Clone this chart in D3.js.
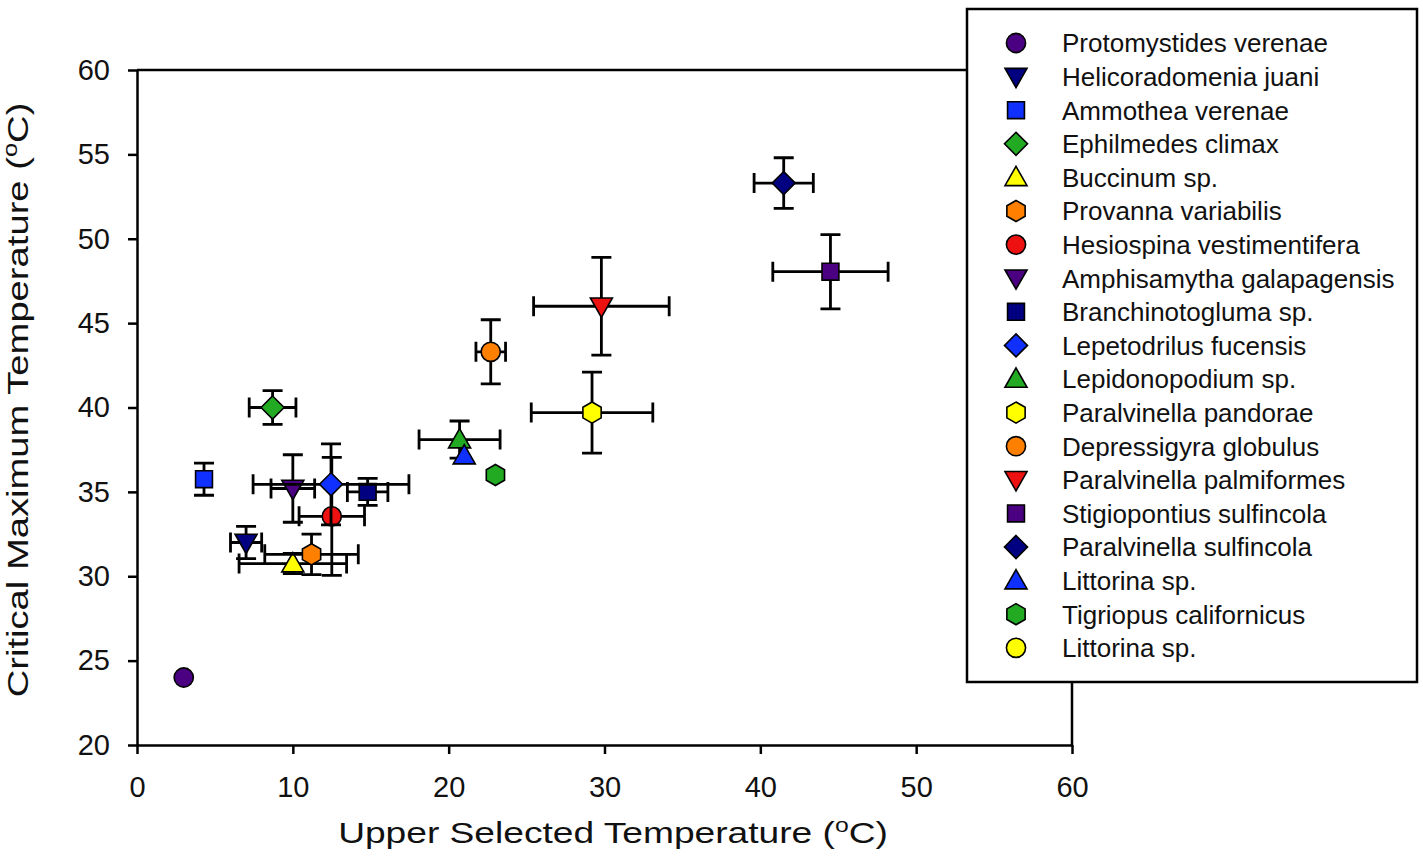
<!DOCTYPE html>
<html lang="en">
<head>
<meta charset="utf-8">
<title>CTmax vs upper selected temperature</title>
<script src="https://d3js.org/d3.v7.min.js"></script>
<style>
body { margin: 0; background: #ffffff; }
text { font-family: "Liberation Sans", Arial, sans-serif; fill: #111; }
.axis path, .axis line { stroke: #000; stroke-width: 2.5; }
.axis text { font-size: 29px; }
</style>
</head>
<body>
<div id="container"></div>
<script>
// data
var species = ["Protomystides verenae", "Helicoradomenia juani", "Ammothea verenae", "Ephilmedes climax",
  "Buccinum sp.", "Provanna variabilis", "Hesiospina vestimentifera", "Amphisamytha galapagensis",
  "Branchinotogluma sp.", "Lepetodrilus fucensis", "Lepidonopodium sp.", "Paralvinella pandorae",
  "Depressigyra globulus", "Paralvinella palmiformes", "Stigiopontius sulfincola", "Paralvinella sulfincola",
  "Littorina sp.", "Tigriopus californicus", "Littorina sp."];
var shapes = ["circle", "triDown", "square", "diamond", "triUp", "hexagon", "circle", "triDown", "square",
  "diamond", "triUp", "hexagon", "circle", "triDown", "square", "diamond", "triUp", "hexagon", "circle"];
var colors = ["#4b0082", "#000080", "#1030ff", "#22aa22", "#ffff00", "#ff8000", "#ee1111", "#4b0082", "#000080",
  "#1030ff", "#22aa22", "#ffff00", "#ff8000", "#ee1111", "#4b0082", "#000080", "#1030ff", "#22aa22", "#ffff00"];
var ustX  = [3.0, 7.0, 4.3, 8.7, 10.0, 11.2, 12.5, 10.0, 14.8, 12.45, 20.7, 29.2, 22.7, 29.8, 44.5, 41.5, 21.0, 23.0, null];
var ctmaxY = [24.0, 32.0, 35.75, 40.0, 30.75, 31.3, 33.55, 35.2, 35.0, 35.45, 38.1, 39.7, 43.3, 46.0, 48.05, 53.3, 37.15, 36.0, null];
var xErr  = [0, 1.0, 0, 1.5, 3.45, 3.0, 2.1, 1.4, 1.3, 5.0, 2.6, 3.9, 0.95, 4.35, 3.7, 1.9, 0, 0, 0];
var yErr  = [0, 0.95, 0.95, 1.0, 0.6, 1.2, 3.5, 2.0, 0.8, 2.4, 1.1, 2.4, 1.9, 2.9, 2.2, 1.5, 0, 0, 0];
var xTicks = [0, 10, 20, 30, 40, 50, 60];
var yTicks = [20, 25, 30, 35, 40, 45, 50, 55, 60];

var w = 1423, h = 862;
var svg = d3.select("#container").append("svg").attr("width", w).attr("height", h);

var x = d3.scaleLinear().domain([0, 60]).range([137, 1072]);
var y = d3.scaleLinear().domain([20, 60]).range([745, 70]);

// marker shapes (size = radius squared)
var sym = {
  circle: { draw: function(c, s) { var r = Math.sqrt(s); c.moveTo(r, 0); c.arc(0, 0, r, 0, 2 * Math.PI); } },
  square: { draw: function(c, s) { var r = Math.sqrt(s) * 0.88; c.rect(-r, -r, 2 * r, 2 * r); } },
  diamond: { draw: function(c, s) { var r = Math.sqrt(s) * 1.2; c.moveTo(0, -r); c.lineTo(r, 0); c.lineTo(0, r); c.lineTo(-r, 0); c.closePath(); } },
  triUp: { draw: function(c, s) { var r = Math.sqrt(s) * 1.15; c.moveTo(0, -r); c.lineTo(r, r * 0.75); c.lineTo(-r, r * 0.75); c.closePath(); } },
  triDown: { draw: function(c, s) { var r = Math.sqrt(s) * 1.15; c.moveTo(-r, -r * 0.75); c.lineTo(r, -r * 0.75); c.lineTo(0, r); c.closePath(); } },
  hexagon: { draw: function(c, s) {
    var r = Math.sqrt(s) * 1.1;
    for (var i = 0; i < 6; i++) {
      var a = -Math.PI / 2 + i * Math.PI / 3;
      if (i === 0) c.moveTo(r * Math.cos(a), r * Math.sin(a)); else c.lineTo(r * Math.cos(a), r * Math.sin(a));
    }
    c.closePath();
  } }
};
var symbol = d3.symbol().size(92);

// axes
svg.append("g").attr("class", "axis").attr("transform", "translate(0,745)")
  .call(d3.axisBottom(x).tickValues(xTicks).tickSize(9).tickSizeOuter(0).tickPadding(22));
svg.append("g").attr("class", "axis").attr("transform", "translate(137,0)")
  .call(d3.axisLeft(y).tickValues(yTicks).tickSize(9).tickSizeOuter(0).tickPadding(18));
svg.selectAll(".axis text").attr("fill", "#111");

// frame top + right
svg.append("path")
  .attr("d", "M" + x(0) + "," + y(60) + "H" + x(60) + "V" + y(20))
  .attr("fill", "none").attr("stroke", "#000").attr("stroke-width", 2.5);

// points: error bars then symbol, series by series
var pts = species.map(function(s, i) {
  return { name: s, shape: shapes[i], color: colors[i], x: ustX[i], y: ctmaxY[i], ex: xErr[i], ey: yErr[i] };
}).filter(function(d) { return d.x != null; });

var cap = 10;
var g = svg.selectAll("g.pt").data(pts).enter().append("g").attr("class", "pt");
g.each(function(d) {
  var el = d3.select(this);
  var px = x(d.x), py = y(d.y);
  if (d.ex > 0) {
    var x0 = x(d.x - d.ex), x1 = x(d.x + d.ex);
    el.append("path").attr("fill", "none").attr("stroke", "#000").attr("stroke-width", 2.8)
      .attr("d", "M" + x0 + "," + py + "H" + x1 +
        "M" + x0 + "," + (py - cap) + "V" + (py + cap) +
        "M" + x1 + "," + (py - cap) + "V" + (py + cap));
  }
  if (d.ey > 0) {
    var y0 = y(d.y - d.ey), y1 = y(d.y + d.ey);
    el.append("path").attr("fill", "none").attr("stroke", "#000").attr("stroke-width", 2.8)
      .attr("d", "M" + px + "," + y0 + "V" + y1 +
        "M" + (px - cap) + "," + y0 + "H" + (px + cap) +
        "M" + (px - cap) + "," + y1 + "H" + (px + cap));
  }
  el.append("path")
    .attr("d", symbol.type(sym[d.shape])())
    .attr("transform", "translate(" + px + "," + py + ")")
    .attr("fill", d.color).attr("stroke", "#000").attr("stroke-width", 1.6);
});

// axis titles
function title(txt, tx, ty, rot, target) {
  var t = svg.append("text").attr("text-anchor", "middle").style("font-size", "30px");
  t.append("tspan").text(txt + " (");
  t.append("tspan").text("o").style("font-size", "20px").attr("dy", "-0.55em");
  t.append("tspan").text("C)").attr("dy", "0.36em");
  var len = t.node().getComputedTextLength();
  t.attr("transform", "translate(" + tx + "," + ty + ") rotate(" + rot + ") scale(" + (target / len) + ",1)");
}
title("Upper Selected Temperature", 613, 843, 0, 550);
title("Critical Maximum Temperature", 28, 400, -90, 595);

// legend
var lg = svg.append("g");
lg.append("rect").attr("x", 967).attr("y", 9).attr("width", 450).attr("height", 673)
  .attr("fill", "#fff").attr("stroke", "#000").attr("stroke-width", 2.5);
var rows = lg.selectAll("g.row").data(species).enter().append("g").attr("class", "row")
  .attr("transform", function(d, i) { return "translate(0," + (43 + i * 33.6) + ")"; });
rows.append("path")
  .attr("d", function(d, i) { return symbol.type(sym[shapes[i]])(); })
  .attr("transform", "translate(1016,0)")
  .attr("fill", function(d, i) { return colors[i]; })
  .attr("stroke", "#000").attr("stroke-width", 1.6);
rows.append("text").attr("x", 1062).attr("dy", "0.36em").style("font-size", "26px").text(function(d) { return d; });
</script>
</body>
</html>
